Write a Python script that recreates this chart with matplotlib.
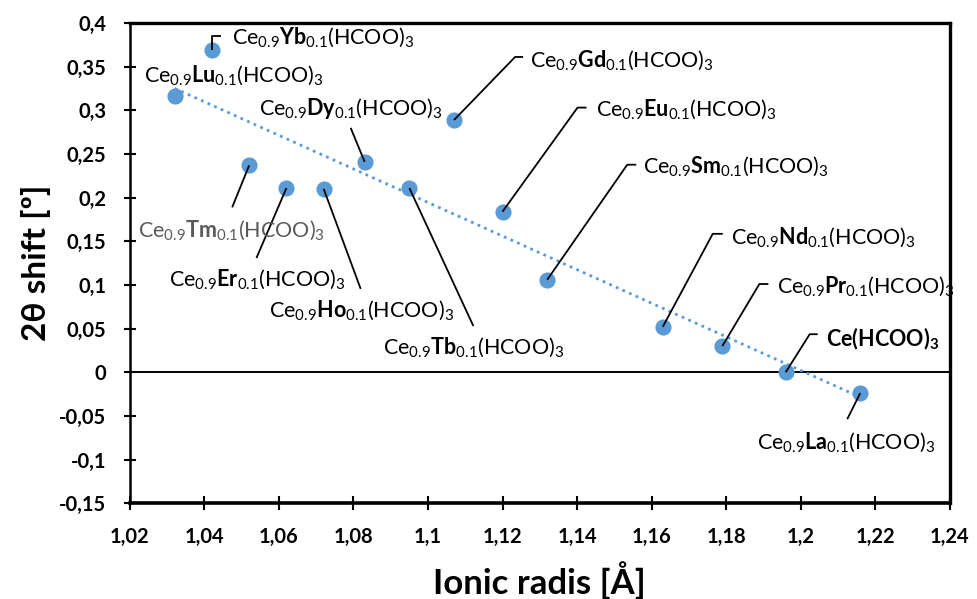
import numpy as np
import matplotlib
matplotlib.use('Agg')
import matplotlib.pyplot as plt
import matplotlib.transforms as mtransforms

plt.rcParams['font.family'] = ['Lato', 'DejaVu Sans']
plt.rcParams['mathtext.fontset'] = 'custom'
plt.rcParams['mathtext.rm'] = 'Lato'
plt.rcParams['mathtext.bf'] = 'Lato:bold'
plt.rcParams['mathtext.default'] = 'regular'

# dopant element, ionic radius (A) and 2-theta shift (deg)
elements = ['Lu', 'Yb', 'Tm', 'Er', 'Ho', 'Dy', 'Tb', 'Gd', 'Eu', 'Sm', 'Nd', 'Pr', 'Ce', 'La']
radius = [1.032, 1.042, 1.052, 1.062, 1.072, 1.083, 1.095, 1.107, 1.120, 1.132, 1.163, 1.179, 1.196, 1.216]
shift = [0.316, 0.369, 0.237, 0.211, 0.210, 0.241, 0.211, 0.289, 0.184, 0.106, 0.052, 0.030, 0.000, -0.024]

xticks = [1.02, 1.04, 1.06, 1.08, 1.1, 1.12, 1.14, 1.16, 1.18, 1.2, 1.22, 1.24]
yticks = [-0.15, -0.1, -0.05, 0, 0.05, 0.1, 0.15, 0.2, 0.25, 0.3, 0.35, 0.4]

# label placement in pixels relative to the point: text anchor, leader path
label_pos = {
    'Lu': ((-31, 15), []),
    'Yb': ((20, 6), [(0, 14), (9, 14)]),
    'Tm': ((-111, -71), [(-17, -42)]),
    'Er': ((-117, -98), [(-30, -70)]),
    'Ho': ((-55, -128), [(37, -100)]),
    'Dy': ((-106, 47), [(-14, 34)]),
    'Tb': ((-26, -166), [(64, -138)]),
    'Gd': ((76, 53), [(61, 63), (69, 63)]),
    'Eu': ((93, 96), [(75, 104), (84, 104)]),
    'Sm': ((96, 107), [(80, 115), (89, 115)]),
    'Nd': ((68, 83), [(50, 93), (60, 93)]),
    'Pr': ((55, 53), [(37, 62), (46, 62)]),
    'Ce': ((40, 26), [(24, 38), (32, 38)]),
    'La': ((-103, -56), [(-13, -26)]),
}

fig = plt.figure(figsize=(9.77, 5.99), dpi=100)
ax = fig.add_axes([0.133, 0.160, 0.839, 0.8015])

blue = '#5B9BD5'
ax.axhline(0, color='black', lw=1.4, zorder=1)

# linear trend line over the data range
k, b = np.polyfit(radius, shift, 1)
xt = np.array([min(radius), max(radius)])
ax.plot(xt, k * xt + b, ls=(0, (1, 1.6)), color=blue, lw=2.0, zorder=2)

ax.scatter(radius, shift, s=135, color=blue, zorder=3, linewidths=0)

for el, x, y in zip(elements, radius, shift):
    (tx, ty), path = label_pos[el]
    if el == 'Ce':
        txt = 'Ce(HCOO)$_3$'
        weight = 'bold'
    else:
        txt = 'Ce$_{0.9}$$\\mathbf{' + el + '}$$_{0.1}$(HCOO)$_3$'
        weight = 'normal'
    color = '#5a5a5a' if el == 'Tm' else 'black'
    ax.annotate(txt, xy=(x, y), xytext=(tx, ty), textcoords='offset pixels',
                ha='left', va='baseline', fontsize=15.5, fontweight=weight,
                color=color, zorder=5, annotation_clip=False)
    if path:
        # leader line in pixel offsets anchored on the point
        trans = mtransforms.IdentityTransform() + \
            mtransforms.ScaledTranslation(x, y, ax.transData)
        px = [0] + [p[0] for p in path]
        py = [0] + [p[1] for p in path]
        ax.plot(px, py, color='black', lw=1.3, transform=trans, zorder=4,
                clip_on=False, solid_capstyle='butt')

ax.set_xlim(1.02, 1.24)
ax.set_ylim(-0.15, 0.4)
ax.set_xticks(xticks)
ax.set_yticks(yticks)
ax.set_xticklabels([('%g' % v).replace('.', ',') for v in xticks],
                   fontsize=14.5, fontweight='bold')
ax.set_yticklabels([('%g' % v).replace('.', ',') for v in yticks],
                   fontsize=14.5, fontweight='bold')
ax.tick_params(axis='x', direction='inout', length=10, width=1.5, pad=12)
ax.tick_params(axis='y', direction='inout', length=8, width=1.5, pad=13)

ax.spines['left'].set_linewidth(1.8)
ax.spines['bottom'].set_linewidth(2.6)
ax.spines['top'].set_linewidth(2.4)
ax.spines['right'].set_linewidth(2.4)

ax.set_xlabel('Ionic radis [Å]', fontsize=25, fontweight='bold', labelpad=10)
ax.set_ylabel('2θ shift [º]', fontsize=24, fontweight='bold', labelpad=6)

plt.savefig('out.png', dpi=100)
plt.close()
